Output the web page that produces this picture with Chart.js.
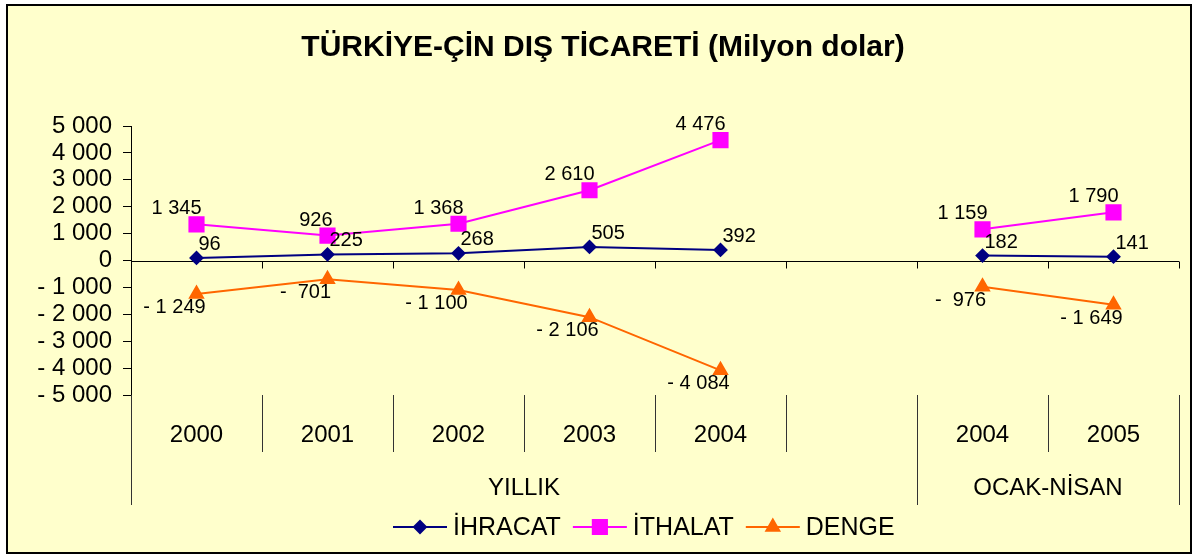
<!DOCTYPE html>
<html>
<head>
<meta charset="utf-8">
<script src="https://cdn.jsdelivr.net/npm/chart.js@4.4.1/dist/chart.umd.min.js"></script>
<style>
  html, body { margin: 0; padding: 0; background: #fff; }
  #wrap { width: 1198px; height: 558px; }
</style>
</head>
<body>
<div id="wrap"><canvas id="myChart" width="1198" height="558"></canvas></div>
<script>
// data
var categories = ['2000', '2001', '2002', '2003', '2004', '', '2004', '2005'];
var groupLabels = ['YILLIK', 'OCAK-NİSAN'];
var groupStarts = [0, 6];   // first category index of each group
var ihracat = [96, 225, 268, 505, 392, null, 182, 141];
var ithalat = [1345, 926, 1368, 2610, 4476, null, 1159, 1790];
var denge = [-1249, -701, -1100, -2106, -4084, null, -976, -1649];
var yMin = -5000, yMax = 5000, yStep = 1000;

var FONT = '"Liberation Sans", Arial, sans-serif';

// "1 345", "- 1 249", "-  701"
function fmt(v) {
  var a = Math.abs(v);
  var s;
  if (a >= 1000) {
    var r = String(a % 1000);
    while (r.length < 3) r = '0' + r;
    s = Math.floor(a / 1000) + ' ' + r;
  } else {
    s = String(a);
  }
  if (v < 0) return a >= 1000 ? '- ' + s : '-  ' + s;
  return s;
}

// where each series puts its value labels (relative to the point)
var labelPos = [
  { align: 'left', dx: 2, dy: -8 },     // İHRACAT
  { align: 'right', dx: 5, dy: -10 },   // İTHALAT
  { align: 'center', dx: -22, dy: 19 }  // DENGE
];

var decor = {
  id: 'decor',
  beforeDraw: function(chart) {
    var ctx = chart.ctx;
    ctx.save();
    ctx.fillStyle = '#ffffff';
    ctx.fillRect(0, 0, chart.width, chart.height);
    ctx.fillStyle = '#FFFFCC';
    ctx.fillRect(7, 5, 1184, 548);
    ctx.strokeStyle = '#000';
    ctx.lineWidth = 2;
    ctx.strokeRect(7, 5, 1184, 548);

    ctx.fillStyle = '#000';
    ctx.font = 'bold 30px ' + FONT;
    ctx.textAlign = 'center';
    ctx.textBaseline = 'alphabetic';
    ctx.fillText('TÜRKİYE-ÇİN DIŞ TİCARETİ (Milyon dolar)', 603, 56);
    ctx.restore();
  },
  beforeDatasetsDraw: function(chart) {
    var ctx = chart.ctx;
    var y = chart.scales.y;
    var area = chart.chartArea;
    var n = categories.length;
    var w = (area.right - area.left) / n;
    var y0 = Math.round(y.getPixelForValue(0)) + 0.5;
    ctx.save();
    ctx.strokeStyle = '#000';
    ctx.lineWidth = 1;
    ctx.beginPath();
    ctx.moveTo(area.left, y0);
    ctx.lineTo(area.right, y0);
    for (var i = 1; i <= n; i++) {
      var bx = Math.round(area.left + i * w) + 0.5;
      ctx.moveTo(bx, y0);
      ctx.lineTo(bx, y0 + 7);
    }
    ctx.stroke();
    ctx.restore();
  },
  afterDraw: function(chart) {
    var ctx = chart.ctx;
    var x = chart.scales.x;
    var area = chart.chartArea;
    var n = categories.length;
    var w = (area.right - area.left) / n;
    var bottom = area.bottom;
    ctx.save();

    // category separators and group separators
    ctx.strokeStyle = '#333';
    ctx.lineWidth = 1;
    ctx.beginPath();
    for (var i = 0; i <= n; i++) {
      var bx = Math.round(area.left + i * w) + 0.5;
      var isGroup = i === 0 || i === n || groupStarts.indexOf(i) >= 0;
      ctx.moveTo(bx, bottom);
      ctx.lineTo(bx, isGroup ? bottom + 110 : bottom + 57);
    }
    ctx.stroke();

    // category labels
    ctx.fillStyle = '#000';
    ctx.font = '24px ' + FONT;
    ctx.textAlign = 'center';
    ctx.textBaseline = 'alphabetic';
    categories.forEach(function(c, i) {
      ctx.fillText(c, x.getPixelForValue(i), bottom + 47);
    });

    // group labels
    groupLabels.forEach(function(g, k) {
      var s = groupStarts[k];
      var e = k + 1 < groupStarts.length ? groupStarts[k + 1] : n;
      var cx = area.left + (s + e) / 2 * w;
      ctx.fillText(g, cx, bottom + 100);
    });

    // value labels
    ctx.font = '20px ' + FONT;
    chart.data.datasets.forEach(function(ds, d) {
      var meta = chart.getDatasetMeta(d);
      var p = labelPos[d];
      ctx.textAlign = p.align;
      ds.data.forEach(function(v, i) {
        if (v === null) return;
        var pt = meta.data[i];
        ctx.fillText(fmt(v), pt.x + p.dx, pt.y + p.dy);
      });
    });

    // legend
    ctx.font = '25px ' + FONT;
    ctx.textAlign = 'left';
    var lx = 393, ly = 527;
    chart.data.datasets.forEach(function(ds) {
      ctx.strokeStyle = ds.borderColor;
      ctx.lineWidth = 2;
      ctx.beginPath();
      ctx.moveTo(lx, ly);
      ctx.lineTo(lx + 54, ly);
      ctx.stroke();
      ctx.fillStyle = ds.pointBackgroundColor;
      ctx.strokeStyle = ds.pointBorderColor;
      Chart.helpers.drawPoint(ctx, {
        pointStyle: ds.pointStyle,
        radius: ds.pointRadius,
        borderWidth: 1,
        rotation: 0
      }, lx + 27, ly);
      ctx.fillStyle = '#000';
      ctx.fillText(ds.label, lx + 60, ly + 8);
      lx += 60 + ctx.measureText(ds.label).width + 12;
    });

    ctx.restore();
  }
};

var ctx = document.getElementById('myChart').getContext('2d');
var chart = new Chart(ctx, {
  type: 'line',
  data: {
    labels: categories,
    datasets: [{
      label: 'İHRACAT',
      data: ihracat,
      borderColor: '#000080',
      backgroundColor: '#000080',
      pointBackgroundColor: '#000080',
      pointBorderColor: '#000080',
      pointStyle: 'rectRot',
      pointRadius: 6,
      borderWidth: 2
    }, {
      label: 'İTHALAT',
      data: ithalat,
      borderColor: '#FF00FF',
      backgroundColor: '#FF00FF',
      pointBackgroundColor: '#FF00FF',
      pointBorderColor: '#FF00FF',
      pointStyle: 'rect',
      pointRadius: 10,
      borderWidth: 2
    }, {
      label: 'DENGE',
      data: denge,
      borderColor: '#FF6600',
      backgroundColor: '#FF6600',
      pointBackgroundColor: '#FF6600',
      pointBorderColor: '#FF6600',
      pointStyle: 'triangle',
      pointRadius: 7.5,
      borderWidth: 2
    }]
  },
  plugins: [decor],
  options: {
    responsive: false,
    animation: false,
    spanGaps: false,
    layout: {
      autoPadding: false,
      padding: { top: 126, bottom: 163, left: 0, right: 19 }
    },
    plugins: {
      legend: { display: false },
      title: { display: false },
      tooltip: { enabled: false }
    },
    elements: {
      line: { tension: 0 },
      point: { borderWidth: 1 }
    },
    scales: {
      x: {
        display: false,
        offset: true
      },
      y: {
        min: yMin,
        max: yMax,
        afterFit: function(s) { s.width = 131; },
        ticks: {
          stepSize: yStep,
          autoSkip: false,
          color: '#000',
          padding: 11,
          font: { family: FONT, size: 24 },
          callback: function(v) { return fmt(v); }
        },
        grid: {
          drawOnChartArea: false,
          drawTicks: true,
          tickLength: 8,
          color: '#000'
        },
        border: { display: true, color: '#000', width: 1 }
      }
    }
  }
});
</script>
</body>
</html>
